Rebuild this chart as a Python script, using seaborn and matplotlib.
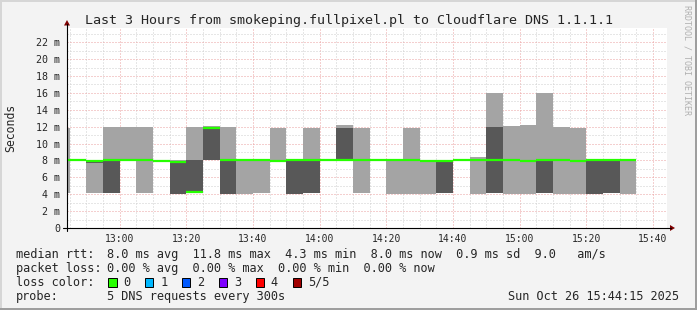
import matplotlib
matplotlib.use("Agg")
import matplotlib.pyplot as plt
import seaborn as sns
import pandas as pd
from matplotlib.ticker import MultipleLocator, FixedLocator, FixedFormatter
from matplotlib.lines import Line2D
from matplotlib.patches import Polygon, Rectangle

# ---------------- data ----------------
step_start = ["12:40", "12:45", "12:50", "12:55", "13:00", "13:05", "13:10", "13:15",
              "13:20", "13:25", "13:30", "13:35", "13:40", "13:45", "13:50", "13:55",
              "14:00", "14:05", "14:10", "14:15", "14:20", "14:25", "14:30", "14:35",
              "14:40", "14:45", "14:50", "14:55", "15:00", "15:05", "15:10", "15:15",
              "15:20", "15:25", "15:30"]
# sorted rtt of the 5 DNS requests per step (ms)
ping1 = [4.1, 8.0, 4.1, 4.2, 8.0, 4.1, 7.8, 4.0, 4.3, 8.0, 4.0, 4.0, 4.2, 7.8, 4.0, 4.2,
         8.0, 8.0, 4.1, 8.0, 4.0, 4.0, 4.0, 4.2, 8.0, 4.0, 4.2, 4.0, 4.0, 4.2, 4.0, 4.0,
         4.0, 4.2, 4.0]
ping2 = [8.0, 8.0, 7.7, 4.2, 8.0, 8.0, 7.8, 4.0, 4.3, 8.0, 4.0, 8.0, 8.0, 7.9, 4.0, 4.2,
         8.0, 8.0, 8.0, 8.0, 8.0, 8.0, 7.8, 4.2, 8.0, 8.0, 4.2, 8.0, 7.9, 4.2, 8.0, 7.8,
         4.0, 4.2, 8.0]
ping3 = [8.0, 8.0, 7.9, 8.0, 8.0, 8.0, 7.9, 7.8, 4.3, 11.8, 8.0, 8.0, 8.0, 7.9, 8.0, 8.0,
         8.0, 8.1, 8.0, 8.0, 8.0, 8.0, 7.9, 7.9, 8.0, 8.0, 8.0, 8.0, 7.9, 8.0, 8.0, 7.9,
         8.0, 8.0, 8.0]
ping4 = [8.0, 8.0, 8.0, 8.0, 8.0, 8.0, 8.0, 7.9, 8.0, 11.9, 8.0, 8.0, 8.0, 8.0, 8.0, 8.0,
         8.0, 11.9, 8.0, 8.0, 8.0, 8.0, 8.0, 7.9, 8.0, 8.0, 12.0, 8.0, 8.0, 8.0, 8.0, 8.0,
         8.0, 8.0, 8.0]
ping5 = [11.9, 8.0, 8.0, 12.0, 12.0, 12.0, 8.0, 8.1, 12.0, 12.1, 12.0, 8.0, 8.0, 11.8, 8.0, 11.8,
         8.0, 12.2, 11.8, 8.0, 8.0, 11.8, 8.0, 8.0, 8.0, 8.4, 16.0, 12.1, 12.2, 16.0, 12.0, 11.8,
         8.0, 8.0, 8.0]

x_tick_labels = ["13:00", "13:20", "13:40", "14:00", "14:20", "14:40", "15:00", "15:20", "15:40"]
y_tick_values = [0, 2, 4, 6, 8, 10, 12, 14, 16, 18, 20, 22]
y_tick_labels = ["0", "2 m", "4 m", "6 m", "8 m", "10 m", "12 m", "14 m", "16 m", "18 m", "20 m", "22 m"]

loss_labels = ["0", "1", "2", "3", "4", "5/5"]
loss_colors = ["#26ff00", "#00b8ff", "#0059ff", "#7e00ff", "#ff0000", "#a00000"]

title = "Last 3 Hours from smokeping.fullpixel.pl to Cloudflare DNS 1.1.1.1"
stats_rtt = "8.0 ms avg  11.8 ms max  4.3 ms min  8.0 ms now  0.9 ms sd  9.0   am/s"
stats_loss = "0.00 % avg  0.00 % max  0.00 % min  0.00 % now"
probe_text = "5 DNS requests every 300s"
stamp = "Sun Oct 26 15:44:15 2025"

STEP = 5  # minutes
t_start = 12 * 60 + 44.25
t_end = 15 * 60 + 44.25


def to_min(s):
    h, m = s.split(":")
    return int(h) * 60 + int(m)


xs = [to_min(s) for s in step_start]

# ---------------- figure ----------------
sns.set_style("white")
plt.rcParams["font.family"] = ["DejaVu Sans Mono", "DejaVu Sans"]

W, H = 697, 310
BG = "#f3f3f3"
fig = plt.figure(figsize=(W / 100, H / 100), dpi=100, facecolor=BG)


def fx(x):
    return x / W


def fy(y):
    return 1 - y / H


L, R, T, B = 67, 667, 28, 228
ax = fig.add_axes([fx(L), fy(B), (R - L) / W, (B - T) / H])
ax.set_facecolor("white")
ax.set_xlim(t_start, t_end)
ax.set_ylim(0, 23.69)

# smoke
light = [b - a for a, b in zip(ping1, ping5)]
dark = [b - a for a, b in zip(ping2, ping4)]
ax.bar(xs, light, bottom=ping1, width=STEP, align="edge", color="#a4a4a4", lw=0, zorder=2)
ax.bar(xs, dark, bottom=ping2, width=STEP, align="edge", color="#585858", lw=0, zorder=3)

# median line via seaborn (one segment per step)
rows = []
for i, (x0, m) in enumerate(zip(xs, ping3)):
    rows.append({"t": x0, "rtt": m, "step": i})
    rows.append({"t": x0 + STEP, "rtt": m, "step": i})
df = pd.DataFrame(rows)
sns.lineplot(data=df, x="t", y="rtt", units="step", estimator=None, color=loss_colors[0],
             lw=1.6, ax=ax, legend=False, zorder=4, solid_capstyle="butt")

# grid
ax.xaxis.set_major_locator(FixedLocator([to_min(s) for s in x_tick_labels]))
ax.xaxis.set_major_formatter(FixedFormatter(x_tick_labels))
ax.xaxis.set_minor_locator(MultipleLocator(5))
ax.yaxis.set_major_locator(FixedLocator(y_tick_values))
ax.yaxis.set_major_formatter(FixedFormatter(y_tick_labels))
ax.yaxis.set_minor_locator(MultipleLocator(1))
ax.set_axisbelow(True)
ax.grid(which="minor", color="#cfcfcf", lw=0.72, ls=(0, (1, 2)))
ax.grid(which="major", color="#eba0a0", lw=0.72, ls=(0, (1, 2)))
ax.tick_params(which="both", length=0)
ax.tick_params(axis="x", pad=4.5, labelsize=7)
ax.tick_params(axis="y", pad=5, labelsize=7.2)
ax.set_xlabel("")
ax.set_ylabel("")
for sp in ax.spines.values():
    sp.set_visible(False)

# axes lines and arrows
fig.add_artist(Line2D([fx(63), fx(671)], [fy(B), fy(B)], color="black", lw=0.8))
fig.add_artist(Line2D([fx(L), fx(L)], [fy(231), fy(24)], color="black", lw=0.8))
fig.add_artist(Polygon([(fx(675), fy(B)), (fx(670), fy(B - 3)), (fx(670), fy(B + 3))],
                       closed=True, color="#7f0000", lw=0))
fig.add_artist(Polygon([(fx(L), fy(20)), (fx(L - 3), fy(25.5)), (fx(L + 3), fy(25.5))],
                       closed=True, color="#7f0000", lw=0))

# frame shading
fig.add_artist(Rectangle((0, fy(2)), 1, 2 / H, color="#d6d6d6", lw=0))
fig.add_artist(Rectangle((0, 0), 2 / W, 1, color="#d6d6d6", lw=0))
fig.add_artist(Rectangle((fx(W - 2), 0), 2 / W, 1, color="#9e9e9e", lw=0))
fig.add_artist(Rectangle((0, 0), 1, 2 / H, color="#9e9e9e", lw=0))

# texts
fig.text(fx(348.7), fy(24), title, ha="center", va="baseline", fontsize=9.6)
fig.text(fx(11), fy(128), "Seconds", rotation=90, ha="center", va="center", fontsize=8.3)
fig.text(fx(686.5), fy(60), "RRDTOOL / TOBI OETIKER", rotation=270, ha="center", va="center",
         fontsize=6, color="#b0b0b0")

FS = 8.6
base = [258.3, 272.1, 285.9, 299.7]
fig.text(fx(16), fy(base[0]), "median rtt:", fontsize=FS, va="baseline")
fig.text(fx(107.3), fy(base[0]), stats_rtt, fontsize=FS, va="baseline")
fig.text(fx(16), fy(base[1]), "packet loss:", fontsize=FS, va="baseline")
fig.text(fx(107.3), fy(base[1]), stats_loss, fontsize=FS, va="baseline")
fig.text(fx(16), fy(base[2]), "loss color:", fontsize=FS, va="baseline")
for i, (lab, col) in enumerate(zip(loss_labels, loss_colors)):
    bx = 108 + i * 36.9
    fig.add_artist(Rectangle((fx(bx), fy(286.7)), 8.5 / W, 8.5 / H, facecolor=col,
                             edgecolor="black", lw=0.7))
    fig.text(fx(bx + 15.3), fy(base[2]), lab, fontsize=FS, va="baseline")
fig.text(fx(16), fy(base[3]), "probe:", fontsize=FS, va="baseline")
fig.text(fx(107.3), fy(base[3]), probe_text, fontsize=FS, va="baseline")
fig.text(fx(679.5), fy(base[3]), stamp, fontsize=FS, va="baseline", ha="right")

fig.savefig("out.png", dpi=100, facecolor=BG)
